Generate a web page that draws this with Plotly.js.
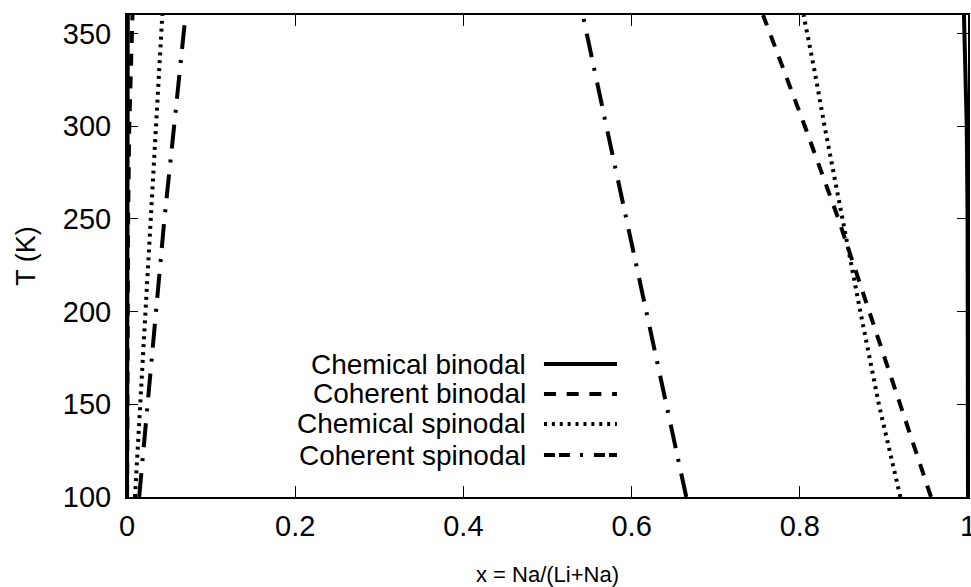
<!DOCTYPE html>
<html>
<head>
<meta charset="utf-8">
<script src="https://cdn.plot.ly/plotly-3.0.1.min.js"></script>
<style>html,body{margin:0;padding:0;background:#fff;}#chart{width:971px;height:587px;}</style>
</head>
<body>
<div id="chart"></div>
<script>
// Temperature grid (K)
const temps = [100, 150, 200, 250, 300, 330, 360];

// Composition x = Na/(Li+Na) of each branch at those temperatures
const chemBinodalLeft  = [0.00002, 0.00005, 0.0001, 0.0002, 0.0004, 0.0006, 0.0009];
const chemBinodalRight = [1.0, 0.99995, 0.9999, 0.9995, 0.9985, 0.997, 0.9952];
const cohBinodalLeft   = [0.0001, 0.0003, 0.0006, 0.0013, 0.0027, 0.0042, 0.0065];
const cohBinodalRight  = [0.956, 0.9193, 0.8826, 0.8459, 0.806, 0.7813, 0.7563];
const chemSpinodalLeft  = [0.0095, 0.0157, 0.0218, 0.0282, 0.0345, 0.0383, 0.042];
const chemSpinodalRight = [0.9196, 0.894, 0.872, 0.8502, 0.8295, 0.8175, 0.8045];
const cohSpinodalLeft  = [0.0145, 0.0245, 0.0345, 0.0445, 0.056, 0.0625, 0.0696];
const cohSpinodalRight = [0.665, 0.641, 0.618, 0.594, 0.570, 0.556, 0.542];

const seriesNames = ["Chemical binodal", "Coherent binodal", "Chemical spinodal", "Coherent spinodal"];
const xTickVals = [0, 0.2, 0.4, 0.6, 0.8, 1];
const xTickText = ["0", "0.2", "0.4", "0.6", "0.8", "1"];
const yTickVals = [100, 150, 200, 250, 300, 350];

const FONT = "Liberation Sans, Arial, Helvetica, sans-serif";
const TICK_FS = 29, LEG_FS = 28, YT_FS = 27, XT_FS = 22;
const dashes = ["solid", "12px,10.7px", "3px,4.9px", "24px,12px,3px,11px"];
const legendDashes = ["solid", "12px,10.7px", "3px,4.9px", "11px,4px,11px,10px,3px,11px"];

function branch(left, right) {
  return { x: left.concat([null], right), y: temps.concat([null], temps) };
}
const branches = [
  branch(chemBinodalLeft, chemBinodalRight),
  branch(cohBinodalLeft, cohBinodalRight),
  branch(chemSpinodalLeft, chemSpinodalRight),
  branch(cohSpinodalLeft, cohSpinodalRight)
];

const traces = branches.map((b, i) => ({
  type: "scatter", mode: "lines", name: seriesNames[i],
  x: b.x, y: b.y, connectgaps: false,
  line: { color: "#000", width: 4, dash: dashes[i] },
  showlegend: false, hoverinfo: "skip"
}));

// Legend (text to the left of the line sample, as in the reference)
const legX0 = 0.4958, legX1 = 0.5826, legTextX = 0.4768;
const legRows = [0.2759, 0.2137, 0.1515, 0.0871];
const annotations = seriesNames.map((n, i) => ({
  xref: "paper", yref: "paper", x: legTextX, y: legRows[i],
  xanchor: "right", yanchor: "middle", showarrow: false, text: n,
  font: { family: FONT, size: LEG_FS, color: "#000" }
}));
const shapes = seriesNames.map((n, i) => ({
  type: "line", xref: "paper", yref: "paper",
  x0: legX0, x1: legX1, y0: legRows[i], y1: legRows[i],
  line: { color: "#000", width: 4, dash: legendDashes[i] }
}));

const axisCommon = {
  ticks: "inside", ticklen: 11, tickwidth: 1, tickcolor: "#000",
  showline: true, linewidth: 2, linecolor: "#000", mirror: "ticks",
  showgrid: false, zeroline: false, ticklabeloverflow: "allow",
  tickfont: { family: FONT, size: TICK_FS, color: "#000" }
};

const layout = {
  width: 971, height: 587,
  margin: { l: 127, r: 3, t: 15, b: 90 },
  paper_bgcolor: "#fff", plot_bgcolor: "#fff",
  showlegend: false,
  xaxis: Object.assign({}, axisCommon, {
    range: [0, 1], tickmode: "array", tickvals: xTickVals, ticktext: xTickText,
    ticklabelstandoff: 2,
    title: { text: "x = Na/(Li+Na)", font: { family: FONT, size: XT_FS, color: "#000" }, standoff: 29 }
  }),
  yaxis: Object.assign({}, axisCommon, {
    range: [100, 360], tickmode: "array", tickvals: yTickVals,
    ticklabelstandoff: 8,
    title: { text: "T (K)", font: { family: FONT, size: YT_FS, color: "#000" }, standoff: 19 }
  }),
  annotations: annotations,
  shapes: shapes
};

Plotly.newPlot("chart", traces, layout, { displayModeBar: false, staticPlot: true });
</script>
</body>
</html>
